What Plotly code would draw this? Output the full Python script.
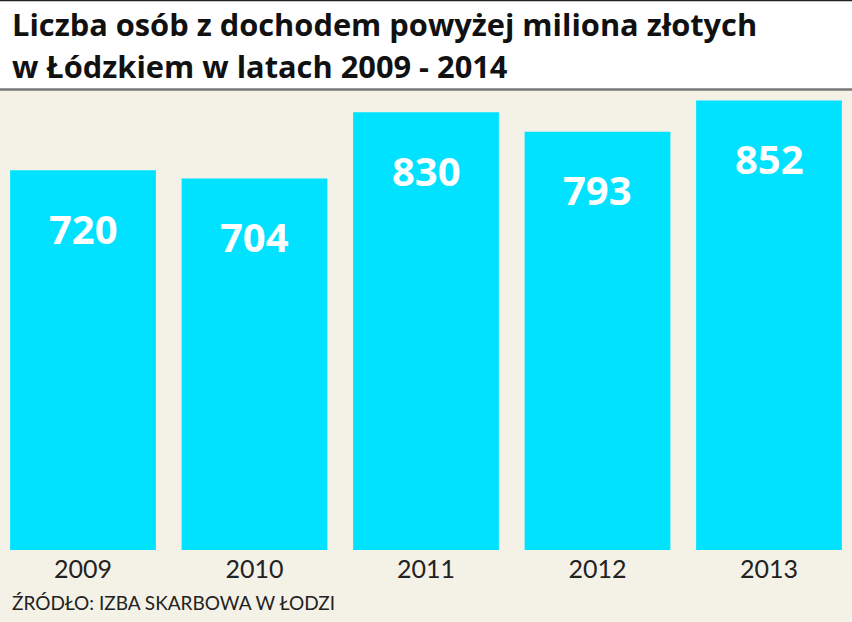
import plotly.graph_objects as go

years = ["2009", "2010", "2011", "2012", "2013"]
values = [720, 704, 830, 793, 852]
title_lines = ["Liczba osób z dochodem powyżej miliona złotych", "w Łódzkiem w latach 2009 - 2014"]
source = "ŹRÓDŁO: IZBA SKARBOWA W ŁODZI"

W, H = 852, 622
T, B = 90, 72
plot_h = H - T - B

fig = go.Figure()
fig.add_trace(go.Bar(x=list(range(len(years))), y=values, marker=dict(color="#00e2ff", line=dict(width=0)),
                     width=0.85, hoverinfo="skip"))

for i, v in enumerate(values):
    fig.add_annotation(x=i, y=v, text=str(v), showarrow=False, yshift=-58, yanchor="middle",
                       font=dict(family="Open Sans", size=40, color="white", weight="bold"))

fig.add_annotation(xref="paper", yref="paper", x=10 / W, y=1 + (T - 24) / plot_h, xanchor="left",
                   yanchor="middle", text=title_lines[0], showarrow=False,
                   font=dict(family="Open Sans", size=30.8, color="#111111", weight="bold"))
fig.add_annotation(xref="paper", yref="paper", x=10 / W, y=1 + (T - 66) / plot_h, xanchor="left",
                   yanchor="middle", text=title_lines[1], showarrow=False,
                   font=dict(family="Open Sans", size=30.8, color="#111111", weight="bold"))
fig.add_annotation(xref="paper", yref="paper", x=10 / W, y=-(602 - (H - B)) / plot_h, xanchor="left",
                   yanchor="middle", text=source, showarrow=False,
                   font=dict(family="Lato", size=19, color="#222222"))

fig.update_layout(
    width=W, height=H,
    margin=dict(l=0, r=0, t=T, b=B),
    paper_bgcolor="#f4f1e7", plot_bgcolor="#f4f1e7",
    showlegend=False,
    shapes=[
        dict(type="rect", xref="paper", yref="paper", x0=0, x1=1, y0=1, y1=1 + T / plot_h,
             fillcolor="white", line=dict(width=0), layer="below"),
        dict(type="line", xref="paper", yref="paper", x0=0, x1=1, y0=1 + 0.5 / plot_h, y1=1 + 0.5 / plot_h,
             line=dict(color="#777777", width=2.5)),
        dict(type="line", xref="paper", yref="paper", x0=0, x1=1, y0=1 + (T - 0.5) / plot_h,
             y1=1 + (T - 0.5) / plot_h, line=dict(color="#222222", width=1.5)),
    ],
    xaxis=dict(range=[-0.484, 4.484], showgrid=False, zeroline=False, showline=False, ticks="",
               tickmode="array", tickvals=list(range(len(years))), ticktext=years,
               ticklabelstandoff=2,
               tickfont=dict(family="Lato", size=25, color="#222222"), fixedrange=True),
    yaxis=dict(range=[0, 872], visible=False, fixedrange=True),
)

fig.write_html("out.html")
